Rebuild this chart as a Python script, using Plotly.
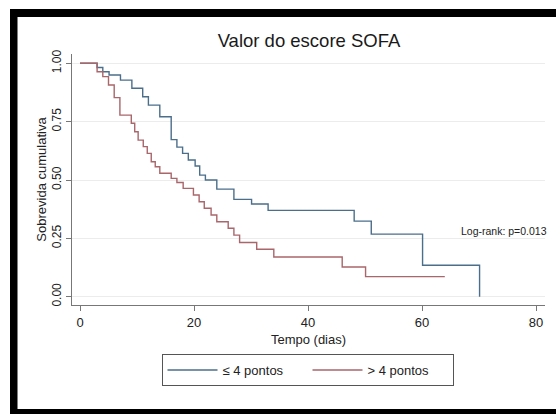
import plotly.graph_objects as go

# ---- data ----
blue_name = "≤ 4 pontos"
blue_t = [0, 3.0, 4.0, 5.1, 7.1, 9.1, 11.0, 12.0, 14.0, 16.0, 17.0, 18.0, 19.0, 20.2,
          21.0, 22.0, 24.0, 27.0, 30.1, 33.0, 48.1, 51.1, 60.1, 70.1]
blue_s = [1.0, 0.982, 0.964, 0.950, 0.928, 0.893, 0.857, 0.821, 0.771, 0.673, 0.641,
          0.614, 0.586, 0.560, 0.521, 0.500, 0.461, 0.417, 0.397, 0.370, 0.324, 0.268,
          0.135, 0.0]

red_name = "> 4 pontos"
red_t = [0, 3.0, 4.0, 5.0, 6.0, 7.0, 9.0, 9.6, 10.2, 11.1, 11.8, 12.5, 13.2, 14.0,
         16.0, 17.0, 18.1, 19.9, 20.9, 21.8, 23.0, 24.0, 26.0, 27.0, 28.0, 31.0,
         34.0, 46.0, 50.1, 64.0]
red_s = [1.0, 0.964, 0.943, 0.907, 0.853, 0.778, 0.743, 0.707, 0.671, 0.643, 0.614,
         0.578, 0.557, 0.529, 0.507, 0.489, 0.464, 0.436, 0.407, 0.379, 0.350, 0.321,
         0.293, 0.264, 0.232, 0.203, 0.170, 0.127, 0.086, 0.086]

x_ticks = [0, 20, 40, 60, 80]
y_ticks = [0.0, 0.25, 0.5, 0.75, 1.0]
y_tick_labels = ["0.00", "0.25", "0.50", "0.75", "1.00"]

title_text = "Valor do escore SOFA"
x_title = "Tempo (dias)"
y_title = "Sobrevida cumulativa"
note_text = "Log-rank: p=0.013"

# ---- figure ----
W, H = 556, 414
L, R, T, B = 72, 11, 54, 109
FONT = "Liberation Sans, Arial, Helvetica, sans-serif"

fig = go.Figure()
fig.add_trace(go.Scatter(x=blue_t, y=blue_s, mode="lines", name=blue_name,
                         line=dict(color="#4b6f8b", width=1.4, shape="hv")))
fig.add_trace(go.Scatter(x=red_t, y=red_s, mode="lines", name=red_name,
                         line=dict(color="#a9666b", width=1.4, shape="hv")))

pw = W - L - R
ph = H - T - B
def px_x(X):
    return (X - L) / pw
def px_y(Y):
    return (H - B - Y) / ph

shapes = [
    # black frame (top, left, bottom)
    dict(type="rect", xref="paper", yref="paper", x0=px_x(10), x1=px_x(560),
         y0=px_y(17), y1=px_y(9), fillcolor="black", line_width=0, layer="above"),
    dict(type="rect", xref="paper", yref="paper", x0=px_x(10), x1=px_x(17.5),
         y0=px_y(418), y1=px_y(9), fillcolor="black", line_width=0, layer="above"),
    dict(type="rect", xref="paper", yref="paper", x0=px_x(10), x1=px_x(560),
         y0=px_y(418), y1=px_y(409), fillcolor="black", line_width=0, layer="above"),
]

fig.update_layout(
    width=W, height=H,
    margin=dict(l=L, r=R, t=T, b=B),
    paper_bgcolor="white", plot_bgcolor="white",
    font=dict(family=FONT, size=13, color="#222"),
    title=dict(text=title_text, x=309 / W, xanchor="center",
               y=1 - 41 / H, yanchor="middle", font=dict(size=18.5, color="#1a1a1a")),
    showlegend=True,
    legend=dict(orientation="h", x=px_x(307.5), xanchor="center", y=px_y(354), yanchor="top",
                bordercolor="#555", borderwidth=1, font=dict(size=13, color="#222"),
                itemwidth=50, entrywidth=80, bgcolor="white"),
    shapes=shapes,
    annotations=[dict(text=note_text, xref="paper", yref="y", x=px_x(549), y=0.281,
                      xanchor="right", yanchor="middle", showarrow=False,
                      font=dict(size=10.5, color="#222"))],
    xaxis=dict(range=[-8 / 5.7, 80 + 9 / 5.7], tickvals=x_ticks, showgrid=False,
               zeroline=False, showline=True, linecolor="#777", linewidth=1,
               ticks="outside", ticklen=5, tickcolor="#777",
               tickfont=dict(size=13, color="#222"),
               title=dict(text=x_title, standoff=6, font=dict(size=13))),
    yaxis=dict(range=[-8.3 / 233.4, 1 + 9.3 / 233.4], tickvals=y_ticks,
               ticktext=y_tick_labels, tickangle=-90, showgrid=True, gridcolor="#ececec",
               gridwidth=1, zeroline=False, showline=True, linecolor="#777", linewidth=1,
               ticks="outside", ticklen=5, tickcolor="#777",
               tickfont=dict(size=12, color="#222"),
               title=dict(text=y_title, standoff=0, font=dict(size=13))),
)

fig.write_html("out.html")
